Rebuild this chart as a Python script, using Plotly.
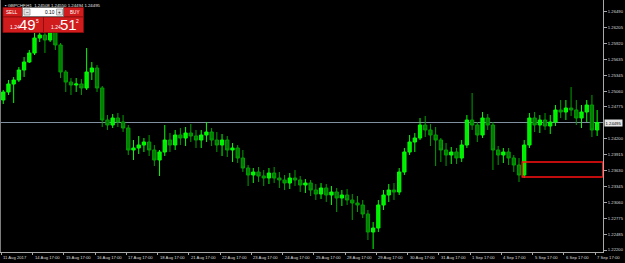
import plotly.graph_objects as go

# ---------------- data ----------------
symbol_title = "GBPCHF,H1  1.24508 1.24550 1.24494 1.24495"
bid_price = 1.24495
sell_parts = ["1.24", "49", "5"]
buy_parts = ["1.24", "51", "2"]
lot_size = "0.10"

bar_open = [1.24900, 1.25044, 1.25188, 1.25260, 1.25440, 1.25584, 1.25746, 1.26016, 1.26070, 1.25980,
            1.26124, 1.25890, 1.25404, 1.25224, 1.25170, 1.25188, 1.25116, 1.25404, 1.25476, 1.25116,
            1.24540, 1.24450, 1.24576, 1.24504, 1.24396, 1.24000, 1.24036, 1.24090, 1.24144, 1.24000,
            1.23820, 1.23964, 1.24180, 1.24090, 1.24270, 1.24216, 1.24306, 1.24252, 1.24180, 1.24270,
            1.24324, 1.24180, 1.24090, 1.24180, 1.24000, 1.24036, 1.23856, 1.23676, 1.23550, 1.23604,
            1.23532, 1.23496, 1.23586, 1.23496, 1.23460, 1.23406, 1.23496, 1.23460, 1.23370, 1.23406,
            1.23280, 1.23208, 1.23316, 1.23190, 1.23244, 1.23136, 1.23190, 1.23100, 1.23046, 1.23010,
            1.22848, 1.22524, 1.22596, 1.23010, 1.23190, 1.23280, 1.23244, 1.23604, 1.23964, 1.24144,
            1.24216, 1.24450, 1.24360, 1.24270, 1.24180, 1.24000, 1.23910, 1.23964, 1.23856, 1.24090,
            1.24540, 1.24450, 1.24270, 1.24576, 1.24450, 1.24000, 1.23910, 1.23964, 1.23856, 1.23730,
            1.23550, 1.24090, 1.24576, 1.24450, 1.24540, 1.24432, 1.24504, 1.24720, 1.24684, 1.24756,
            1.24720, 1.24576, 1.24684, 1.24810, 1.24360]
bar_high = [1.25080, 1.25260, 1.25314, 1.25494, 1.25674, 1.25800, 1.26106, 1.26160, 1.26196, 1.26250,
            1.26250, 1.25926, 1.25440, 1.25296, 1.25296, 1.25278, 1.25836, 1.25584, 1.25530, 1.25152,
            1.24630, 1.24648, 1.24666, 1.24630, 1.24450, 1.24180, 1.24252, 1.24216, 1.24270, 1.24090,
            1.24000, 1.24450, 1.24306, 1.24360, 1.24396, 1.24414, 1.24468, 1.24360, 1.24360, 1.24504,
            1.24396, 1.24324, 1.24288, 1.24252, 1.24126, 1.24090, 1.24000, 1.23730, 1.23676, 1.23694,
            1.23640, 1.23676, 1.23694, 1.23604, 1.23550, 1.23586, 1.23640, 1.23532, 1.23478, 1.23460,
            1.23388, 1.23406, 1.23388, 1.23352, 1.23316, 1.23280, 1.23298, 1.23208, 1.23172, 1.23100,
            1.22920, 1.22704, 1.23100, 1.23280, 1.23388, 1.23406, 1.23676, 1.24036, 1.24270, 1.24306,
            1.24576, 1.24612, 1.24468, 1.24414, 1.24216, 1.24126, 1.24054, 1.24036, 1.24180, 1.24630,
            1.25026, 1.24504, 1.24684, 1.24648, 1.24504, 1.24072, 1.24036, 1.24036, 1.23910, 1.23856,
            1.24180, 1.24666, 1.24684, 1.24630, 1.24666, 1.24630, 1.24810, 1.24900, 1.24900, 1.25134,
            1.24900, 1.24810, 1.24900, 1.24990, 1.24720]
bar_low = [1.24828, 1.24990, 1.24846, 1.25224, 1.25314, 1.25566, 1.25710, 1.25944, 1.25746, 1.25944,
           1.25800, 1.25296, 1.25044, 1.24990, 1.25044, 1.24990, 1.25080, 1.25260, 1.25044, 1.24414,
           1.24360, 1.24396, 1.24414, 1.24324, 1.23910, 1.23820, 1.23928, 1.23964, 1.23892, 1.23712,
           1.23532, 1.23892, 1.23964, 1.24000, 1.24090, 1.24072, 1.24144, 1.24036, 1.24036, 1.24144,
           1.24072, 1.23964, 1.23892, 1.23874, 1.23784, 1.23766, 1.23604, 1.23352, 1.23406, 1.23424,
           1.23352, 1.23388, 1.23406, 1.23316, 1.23280, 1.23298, 1.23352, 1.23244, 1.23226, 1.23172,
           1.23100, 1.23118, 1.23064, 1.23010, 1.22884, 1.22992, 1.23010, 1.22740, 1.22884, 1.22776,
           1.22380, 1.22218, 1.22524, 1.22920, 1.23064, 1.23100, 1.23190, 1.23550, 1.23910, 1.23964,
           1.24180, 1.24234, 1.24072, 1.23712, 1.23784, 1.23712, 1.23748, 1.23748, 1.23784, 1.24036,
           1.24360, 1.24144, 1.24216, 1.24360, 1.23640, 1.23730, 1.23766, 1.23730, 1.23604, 1.23424,
           1.23496, 1.24036, 1.24324, 1.24306, 1.24360, 1.24288, 1.24432, 1.24576, 1.24540, 1.24612,
           1.24450, 1.24396, 1.24504, 1.24234, 1.24252]
bar_close = [1.25044, 1.25188, 1.25260, 1.25440, 1.25584, 1.25746, 1.26016, 1.26070, 1.25980, 1.26124,
             1.25890, 1.25404, 1.25224, 1.25170, 1.25188, 1.25116, 1.25404, 1.25476, 1.25116, 1.24540,
             1.24450, 1.24576, 1.24504, 1.24396, 1.24000, 1.24036, 1.24090, 1.24144, 1.24000, 1.23820,
             1.23964, 1.24180, 1.24090, 1.24270, 1.24216, 1.24306, 1.24252, 1.24180, 1.24270, 1.24324,
             1.24180, 1.24090, 1.24180, 1.24000, 1.24036, 1.23856, 1.23676, 1.23550, 1.23604, 1.23532,
             1.23496, 1.23586, 1.23496, 1.23460, 1.23406, 1.23496, 1.23460, 1.23370, 1.23406, 1.23280,
             1.23208, 1.23316, 1.23190, 1.23244, 1.23136, 1.23190, 1.23100, 1.23046, 1.23010, 1.22848,
             1.22524, 1.22596, 1.23010, 1.23190, 1.23280, 1.23244, 1.23604, 1.23964, 1.24144, 1.24216,
             1.24450, 1.24360, 1.24270, 1.24180, 1.24000, 1.23910, 1.23964, 1.23856, 1.24090, 1.24540,
             1.24450, 1.24270, 1.24576, 1.24450, 1.24000, 1.23910, 1.23964, 1.23856, 1.23730, 1.23550,
             1.24090, 1.24576, 1.24450, 1.24540, 1.24432, 1.24504, 1.24720, 1.24684, 1.24756, 1.24720,
             1.24576, 1.24684, 1.24810, 1.24360, 1.24495]

# candle position on the H1 bar axis (each candle groups 4 hourly bars)
bar_x = [4 * k + 2 for k in range(len(bar_close))]

date_labels = ["11 Aug 2017", "14 Aug 17:00", "15 Aug 17:00", "16 Aug 17:00", "17 Aug 17:00",
               "18 Aug 17:00", "21 Aug 17:00", "22 Aug 17:00", "23 Aug 17:00", "24 Aug 17:00",
               "25 Aug 17:00", "28 Aug 17:00", "29 Aug 17:00", "30 Aug 17:00", "31 Aug 17:00",
               "1 Sep 17:00", "4 Sep 17:00", "5 Sep 17:00", "6 Sep 17:00", "7 Sep 17:00"]
date_ticks = [24 * j + 0.5 for j in range(len(date_labels))]

price_ticks = [1.26490, 1.26205, 1.25920, 1.25635, 1.25345, 1.25060, 1.24775,
               1.24200, 1.23915, 1.23630, 1.23345, 1.23060, 1.22775, 1.22485, 1.22200]

zone_bars = [400.5, 462.3]
zone_prices = [1.23784, 1.23514]

# ---------------- figure ----------------
W, H = 625, 263
ML, MR, MT, MB = 0, 22, 0, 11
PW, PH = W - ML - MR, H - MT - MB
FONT = "Liberation Sans"
AX = "#A8A8A8"


def px(x):
    return (x - ML) / PW


def py(y):
    return 1 - (y - MT) / PH


fig = go.Figure()
fig.add_trace(go.Candlestick(
    x=bar_x, open=bar_open, high=bar_high, low=bar_low, close=bar_close,
    increasing=dict(line=dict(color="#00FF00", width=1), fillcolor="#00EE00"),
    decreasing=dict(line=dict(color="#00A000", width=1), fillcolor="#007C00"),
    whiskerwidth=0, hoverinfo="skip", showlegend=False,
))

shapes = []
annotations = []

# bid line
shapes.append(dict(type="line", xref="paper", yref="y", x0=0, x1=1, y0=bid_price, y1=bid_price,
                   line=dict(color="#8090A0", width=1), layer="below"))
# red rectangle object
shapes.append(dict(type="rect", xref="x", yref="y", x0=zone_bars[0], x1=zone_bars[1],
                   y0=zone_prices[0], y1=zone_prices[1], line=dict(color="#FF1010", width=1.5)))
# left frame edge
shapes.append(dict(type="line", xref="paper", yref="paper", x0=0.0008, x1=0.0008, y0=0, y1=1,
                   line=dict(color="#808080", width=1)))

# x-axis date labels (left aligned, as in the terminal)
for t, lab in zip(date_ticks, date_labels):
    annotations.append(dict(x=t, y=0, xref="x", yref="paper", text=lab, showarrow=False,
                            xanchor="left", yanchor="top", xshift=0, yshift=-1,
                            font=dict(family=FONT, size=4.2, color="#DADADA")))

# bid price label
annotations.append(dict(x=1, y=bid_price, xref="paper", yref="y", text=f"{bid_price:.5f}",
                        showarrow=False, xanchor="left", yanchor="middle", xshift=1,
                        bgcolor="#E6E6E6", borderpad=0.6,
                        font=dict(family=FONT, size=4.2, color="#000000")))

# chart title
annotations.append(dict(x=px(3), y=py(1), xref="paper", yref="paper", text="▪ " + symbol_title,
                        showarrow=False, xanchor="left", yanchor="top",
                        font=dict(family=FONT, size=4.3, color="#E8E8E8")))

# one-click trading panel
RED = "#D01C1C"
DRED = "#8C0C0C"


def rect(x0, y0, x1, y1, fill, line):
    shapes.append(dict(type="rect", xref="paper", yref="paper", x0=px(x0), x1=px(x1),
                       y0=py(y1), y1=py(y0), fillcolor=fill, line=dict(color=line, width=0.8)))


def text(x, y, s, size, color, anchor="center"):
    annotations.append(dict(x=px(x), y=py(y), xref="paper", yref="paper", text=s, showarrow=False,
                            xanchor=anchor, yanchor="middle",
                            font=dict(family=FONT, size=size, color=color)))


rect(3, 7.5, 22.5, 17, RED, DRED)
rect(63.5, 7.5, 83.5, 17, RED, DRED)
rect(3, 17, 43.5, 32.5, RED, DRED)
rect(43.5, 17, 83.5, 32.5, RED, DRED)
rect(22.5, 7.5, 63.5, 16.5, "#FFFFFF", "#707070")
rect(24, 9, 30, 15, "#E4E4E4", "#9A9A9A")
rect(56.5, 9, 62.5, 15, "#E4E4E4", "#9A9A9A")
text(12, 12, "SELL", 4.6, "#FFFFFF")
text(74, 12, "BUY", 4.6, "#FFFFFF")
text(27, 12, "–", 4.6, "#000000")
text(59.5, 12, "+", 4.6, "#000000")
text(50, 12, lot_size, 4.8, "#000000")
text(8, 27, sell_parts[0], 5, "#FFFFFF", "left")
text(27.5, 24.5, sell_parts[1], 15, "#FFFFFF")
text(37.5, 21, sell_parts[2], 5, "#FFFFFF")
text(48.5, 27, buy_parts[0], 5, "#FFFFFF", "left")
text(68, 24.5, buy_parts[1], 15, "#FFFFFF")
text(77.5, 21, buy_parts[2], 5, "#FFFFFF")

fig.update_layout(
    width=W, height=H, margin=dict(l=ML, r=MR, t=MT, b=MB),
    paper_bgcolor="#000000", plot_bgcolor="#000000",
    shapes=shapes, annotations=annotations, showlegend=False, boxgap=0.1,
    xaxis=dict(range=[-0.5, 462.5], showgrid=False, zeroline=False, showline=True, linecolor=AX,
               linewidth=1, ticks="outside", ticklen=2, tickcolor=AX, tickvals=date_ticks,
               showticklabels=False, rangeslider=dict(visible=False), fixedrange=True),
    yaxis=dict(range=[1.22164, 1.26700], side="right", showgrid=False, zeroline=False,
               showline=True, linecolor=AX, linewidth=1, ticks="outside", ticklen=3, tickcolor=AX,
               tickvals=price_ticks, ticktext=[f"{v:.5f}" for v in price_ticks],
               tickfont=dict(family=FONT, size=4.2, color="#DADADA"), fixedrange=True),
)

fig.write_html("out.html")
